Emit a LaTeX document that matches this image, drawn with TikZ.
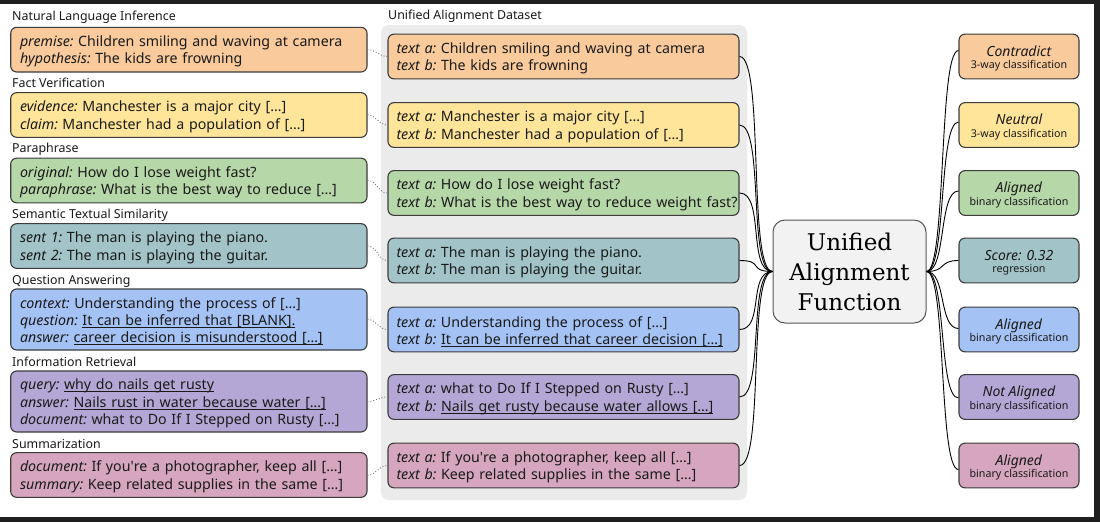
\documentclass[tikz,border=0pt]{standalone}
\usepackage{fontspec}
\setmainfont{Noto Sans}
\newfontfamily\serifc{DejaVu Serif}
\definecolor{cOr}{HTML}{F9CB9C}
\definecolor{cYe}{HTML}{FFE599}
\definecolor{cGr}{HTML}{B6D7A8}
\definecolor{cTe}{HTML}{A2C4C9}
\definecolor{cBl}{HTML}{A4C2F4}
\definecolor{cPu}{HTML}{B4A7D6}
\definecolor{cPi}{HTML}{D5A6BD}
\definecolor{bd}{HTML}{3C3C3C}
\definecolor{txt}{HTML}{1A1A1A}
\definecolor{panelc}{HTML}{EBEBEB}
\definecolor{cenfill}{HTML}{F2F2F2}
\definecolor{cenbd}{HTML}{555555}
\definecolor{dotc}{HTML}{777777}
\definecolor{frame}{HTML}{1F1F1F}
\newsavebox\ulbox
\newcommand{\myul}[1]{\sbox\ulbox{#1}\rlap{\rule[-2.3pt]{\wd\ulbox}{0.9pt}}\usebox\ulbox}
\newcommand{\kw}[1]{\rule{0pt}{14.6pt}\textit{#1}\hspace{-2.5pt}}
\newcommand{\kwb}[1]{\textit{#1}\hspace{-2.5pt}}
\begin{document}
\begin{tikzpicture}[x=1pt,y=-1pt,
  srcbox/.style={draw=bd, line width=1.1pt, rounded corners=6pt, minimum width=356.3pt,
    text width=337.7pt, align=left, inner xsep=9.3pt, inner ysep=0pt, text=txt,
    font=\fontsize{14.2}{17.3}\selectfont},
  midbox/.style={draw=bd, line width=1.1pt, rounded corners=6pt, minimum width=351pt,
    text width=334pt, align=left, inner xsep=8.5pt, inner ysep=0pt, text=txt,
    minimum height=44.7pt, font=\fontsize{14.2}{17.3}\selectfont},
  outbox/.style={draw=bd, line width=1.1pt, rounded corners=6pt, minimum width=120pt,
    minimum height=44.7pt, align=center, inner sep=0pt, text=txt,
    font=\fontsize{14}{12.7}\selectfont},
  lbl/.style={anchor=base west, inner sep=0pt, text=txt, font=\fontsize{12.4}{14}\selectfont},
  dotline/.style={draw=dotc, line width=0.9pt, dotted},
  conn/.style={draw=black, line width=0.9pt}
]
\useasboundingbox (0,0) rectangle (1100,522);
\fill[white] (0,0) rectangle (1100,522);
\fill[frame] (0,0) rectangle (1100,4);
\fill[frame] (1094,0) rectangle (1100,522);
\fill[frame] (0,517) rectangle (1100,522);
% panel
\fill[panelc, rounded corners=8pt] (381,25) rectangle (747,500);
\node[lbl] (pl) at (388,19.5) {Unified Alignment Dataset};
% section labels
\node[lbl] (l1) at (12,20) {Natural Language Inference};
\node[lbl] (l2) at (12,87.5) {Fact Verification};
\node[lbl] (l3) at (12,152.5) {Paraphrase};
\node[lbl] (l4) at (12,218) {Semantic Textual Similarity};
\node[lbl] (l5) at (12,284) {Question Answering};
\node[lbl] (l6) at (12,366) {Information Retrieval};
\node[lbl] (l7) at (12,448.3) {Summarization};
% source boxes
\node[srcbox, fill=cOr, minimum height=44.7pt] (s1) at (188.85,49.65)
  {\kw{premise:} Children smiling and waving at camera\\\kwb{hypothesis:} The kids are frowning};
\node[srcbox, fill=cYe, minimum height=44.7pt] (s2) at (188.85,115)
  {\kw{evidence:} Manchester is a major city […]\\\kwb{claim:} Manchester had a population of […]};
\node[srcbox, fill=cGr, minimum height=44.7pt] (s3) at (188.85,180.5)
  {\kw{original:} How do I lose weight fast?\\\kwb{paraphrase:} What is the best way to reduce […]};
\node[srcbox, fill=cTe, minimum height=44.7pt] (s4) at (188.85,246)
  {\kw{sent 1:} The man is playing the piano.\\\kwb{sent 2:} The man is playing the guitar.};
\node[srcbox, fill=cBl, minimum height=61pt] (s5) at (188.85,319.5)
  {\kw{context:} Understanding the process of […]\\\kwb{question:} \myul{It can be inferred that [BLANK].}\\\kwb{answer:} \myul{career decision is misunderstood […]}};
\node[srcbox, fill=cPu, minimum height=61pt] (s6) at (188.85,401.5)
  {\kw{query:} \myul{why do nails get rusty}\\\kwb{answer:} \myul{Nails rust in water because water […]}\\\kwb{document:} what to Do If I Stepped on Rusty […]};
\node[srcbox, fill=cPi, minimum height=44.7pt] (s7) at (188.85,475)
  {\kw{document:} If you\textquotesingle re a photographer, keep all […]\\\kwb{summary:} Keep related supplies in the same […]};
% unified boxes
\node[midbox, fill=cOr] (m1) at (563.5,56.5)
  {\kw{text a:} Children smiling and waving at camera\\\kwb{text b:} The kids are frowning};
\node[midbox, fill=cYe] (m2) at (563.5,125)
  {\kw{text a:} Manchester is a major city […]\\\kwb{text b:} Manchester had a population of […]};
\node[midbox, fill=cGr] (m3) at (563.5,193)
  {\kw{text a:} How do I lose weight fast?\\\mbox{\kwb{text b:} What is the best way to reduce weight fast?}};
\node[midbox, fill=cTe] (m4) at (563.5,260.5)
  {\kw{text a:} The man is playing the piano.\\\kwb{text b:} The man is playing the guitar.};
\node[midbox, fill=cBl] (m5) at (563.5,329.5)
  {\kw{text a:} Understanding the process of […]\\\kwb{text b:} \myul{It can be inferred that career decision […]}};
\node[midbox, fill=cPu] (m6) at (563.5,397)
  {\kw{text a:} what to Do If I Stepped on Rusty […]\\\kwb{text b:} \myul{Nails get rusty because water allows […]}};
\node[midbox, fill=cPi] (m7) at (563.5,465.5)
  {\kw{text a:} If you\textquotesingle re a photographer, keep all […]\\\kwb{text b:} Keep related supplies in the same […]};
% centre
\node[draw=cenbd, fill=cenfill, line width=1pt, rounded corners=12pt, minimum width=153pt,
  minimum height=103pt, align=center, inner sep=0pt, text=black,
  font=\serifc\fontsize{23}{30}\selectfont] (uaf) at (849.5,271.5) {Unified\\Alignment\\Function};
% outputs
\newcommand{\otit}[1]{\rule{0pt}{14.3pt}\textit{#1}}
\newcommand{\osub}[1]{{\fontsize{10.7}{12.7}\selectfont #1}}
\node[outbox, fill=cOr] (r1) at (1019,56.5) {\otit{Contradict}\\\osub{3-way classification}};
\node[outbox, fill=cYe] (r2) at (1019,125) {\otit{Neutral}\\\osub{3-way classification}};
\node[outbox, fill=cGr] (r3) at (1019,193) {\otit{Aligned}\\\osub{binary classification}};
\node[outbox, fill=cTe] (r4) at (1019,260.5) {\otit{Score: 0.32}\\\osub{regression}};
\node[outbox, fill=cBl] (r5) at (1019,329.5) {\otit{Aligned}\\\osub{binary classification}};
\node[outbox, fill=cPu] (r6) at (1019,397) {\otit{Not Aligned}\\\osub{binary classification}};
\node[outbox, fill=cPi] (r7) at (1019,465.5) {\otit{Aligned}\\\osub{binary classification}};
% connectors
\foreach \i in {1,...,7}{
  \draw[dotline] (s\i.east) to[out=0,in=180] (m\i.west);
  \draw[conn] (m\i.east) .. controls +(25,0) and +(-25,0) .. (uaf.west);
}
\draw[conn] (uaf.east) .. controls +(20,0) and +(-20,0) .. ([yshift=6pt]r1.west);
\draw[conn] (uaf.east) .. controls +(20,0) and +(-20,0) .. ([yshift=3pt]r2.west);
\draw[conn] (uaf.east) .. controls +(20,0) and +(-20,0) .. ([yshift=2pt]r3.west);
\draw[conn] (uaf.east) .. controls +(20,0) and +(-20,0) .. (r4.west);
\draw[conn] (uaf.east) .. controls +(20,0) and +(-20,0) .. ([yshift=1pt]r5.west);
\draw[conn] (uaf.east) .. controls +(20,0) and +(-20,0) .. ([yshift=-1pt]r6.west);
\draw[conn] (uaf.east) .. controls +(20,0) and +(-20,0) .. ([yshift=-4pt]r7.west);
\end{tikzpicture}
\end{document}
